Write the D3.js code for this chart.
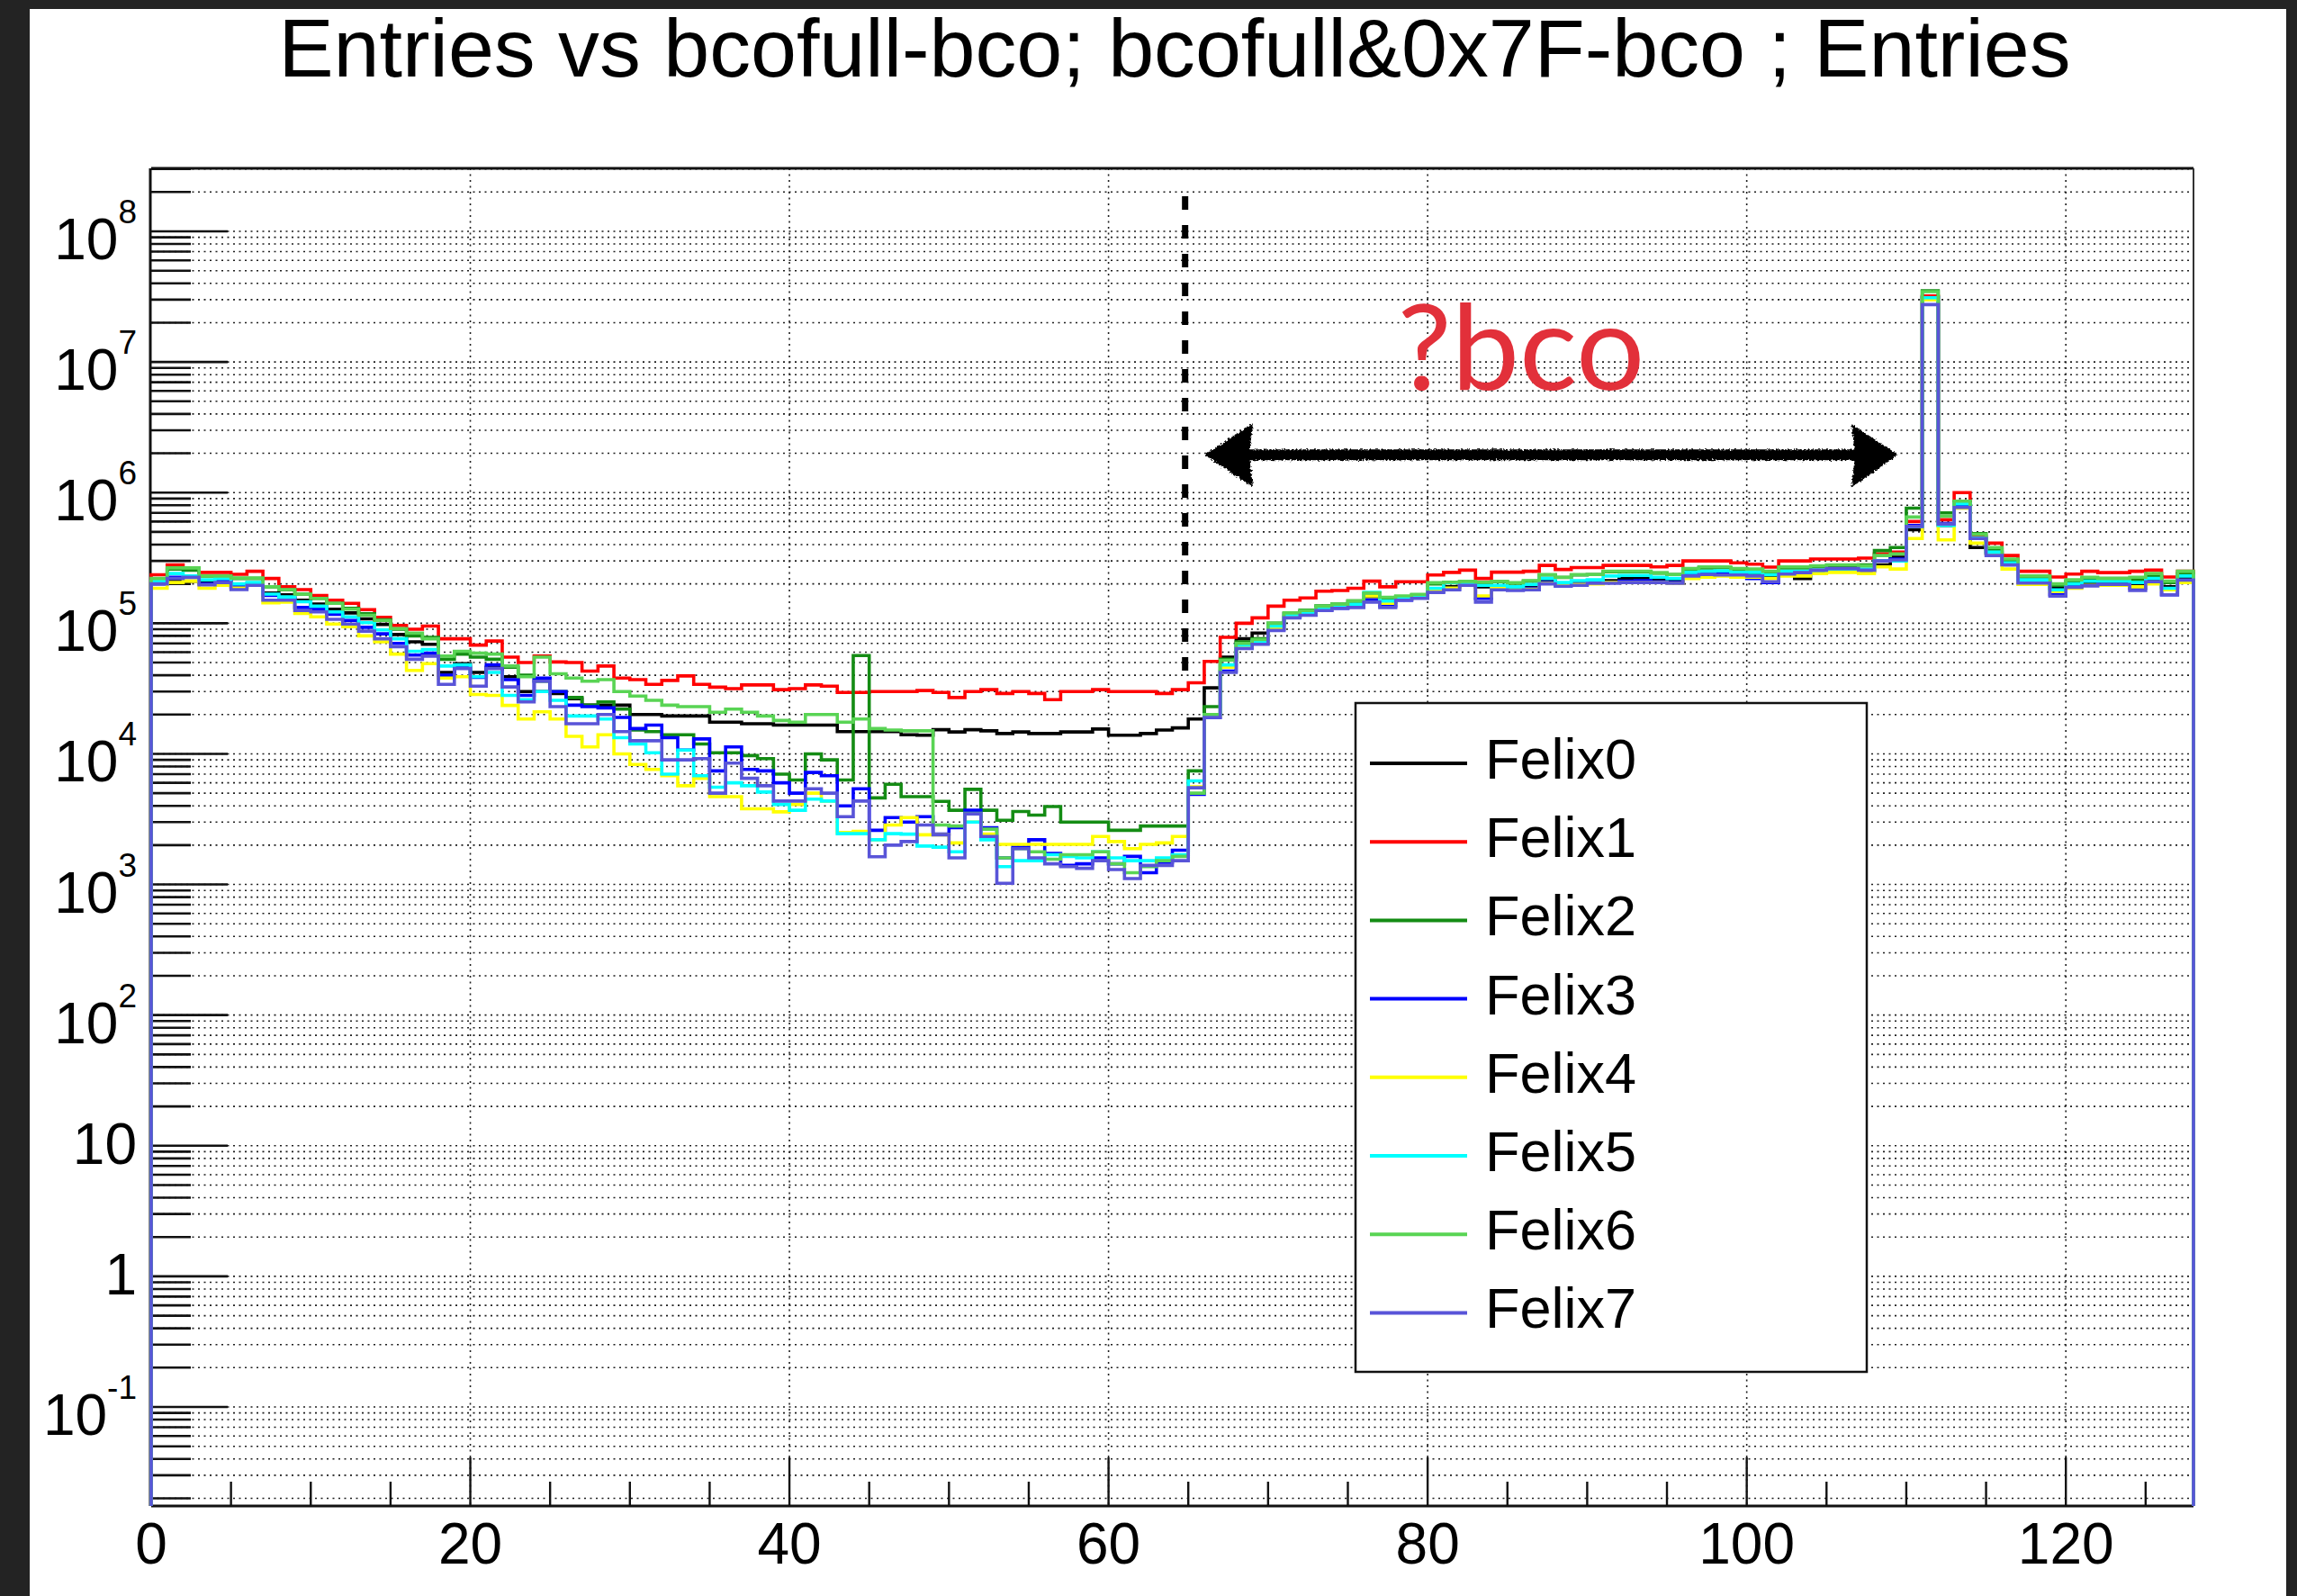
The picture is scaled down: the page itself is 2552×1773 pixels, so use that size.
<!DOCTYPE html>
<html>
<head>
<meta charset="utf-8">
<script src="https://cdn.jsdelivr.net/npm/d3@7"></script>
<style>
  html, body { margin: 0; padding: 0; background: #232323; overflow: hidden; }
  svg { display: block; }
</style>
</head>
<body>
<svg id="chart" width="2552" height="1773"></svg>
<script>
// ---- data: entries per bin of (bcofull & 0x7F) - bco, bins 0..127 ----
const binCount = 128;

const felix0 = [
  2.05e5,2.1e5,2.1e5,2.05e5,2.1e5,1.95e5,2.0e5,1.7e5,1.65e5,1.5e5,
  1.4e5,1.28e5,1.2e5,1.08e5,9.8e4,8.2e4,7.2e4,6.9e4,4.2e4,4.9e4,
  4.2e4,4.6e4,3.9e4,3.0e4,3.0e4,2.9e4,2.64e4,2.36e4,2.36e4,2.36e4,
  2.0e4,2.0e4,1.95e4,1.95e4,1.95e4,1.75e4,1.75e4,1.7e4,1.7e4,1.66e4,
  1.66e4,1.66e4,1.66e4,1.48e4,1.48e4,1.48e4,1.48e4,1.4e4,1.39e4,1.53e4,
  1.47e4,1.53e4,1.5e4,1.43e4,1.47e4,1.43e4,1.43e4,1.47e4,1.47e4,1.55e4,
  1.39e4,1.39e4,1.43e4,1.52e4,1.58e4,1.85e4,3.2e4,5.5e4,7.6e4,8.4e4,
  9.8e4,1.18e5,1.22e5,1.32e5,1.36e5,1.42e5,1.6e5,1.45e5,1.55e5,1.6e5,
  1.8e5,1.9e5,2.0e5,1.9e5,1.92e5,1.86e5,1.95e5,2.1e5,2.0e5,2.05e5,
  2.1e5,2.12e5,2.2e5,2.2e5,2.15e5,2.12e5,2.35e5,2.4e5,2.42e5,2.35e5,
  2.4e5,2.3e5,2.4e5,2.2e5,2.45e5,2.5e5,2.5e5,2.55e5,2.8e5,3.2e5,
  5.2e5,3.15e7,5.6e5,8.0e5,3.8e5,3.5e5,2.9e5,2.1e5,2.1e5,1.85e5,
  2.0e5,2.05e5,2.05e5,2.05e5,2.0e5,2.15e5,1.9e5,2.2e5
];
const felix1 = [
  2.35e5,2.8e5,2.6e5,2.45e5,2.45e5,2.37e5,2.5e5,2.2e5,1.9e5,1.81e5,
  1.63e5,1.5e5,1.42e5,1.27e5,1.11e5,9.6e4,9.0e4,9.5e4,7.6e4,7.6e4,
  6.8e4,7.3e4,5.5e4,5.0e4,5.6e4,5.05e4,5.0e4,4.3e4,4.7e4,3.8e4,
  3.7e4,3.4e4,3.65e4,3.95e4,3.4e4,3.24e4,3.16e4,3.37e4,3.37e4,3.1e4,
  3.16e4,3.37e4,3.3e4,2.95e4,2.95e4,3.0e4,3.0e4,3.0e4,3.05e4,2.95e4,
  2.7e4,3.0e4,3.1e4,2.9e4,3.0e4,2.9e4,2.6e4,3.0e4,3.0e4,3.1e4,
  3.0e4,3.0e4,3.0e4,2.9e4,3.1e4,3.5e4,5.1e4,7.8e4,1.0e5,1.1e5,
  1.35e5,1.5e5,1.56e5,1.76e5,1.78e5,1.85e5,2.1e5,1.9e5,2.08e5,2.08e5,
  2.34e5,2.45e5,2.55e5,2.2e5,2.46e5,2.46e5,2.5e5,2.77e5,2.58e5,2.67e5,
  2.67e5,2.77e5,2.77e5,2.77e5,2.7e5,2.77e5,3.0e5,3.0e5,3.0e5,2.9e5,
  2.83e5,2.69e5,3.0e5,3.0e5,3.1e5,3.1e5,3.1e5,3.15e5,3.4e5,3.5e5,
  6.0e5,3.2e7,6.2e5,1.0e6,4.6e5,4.1e5,3.3e5,2.5e5,2.5e5,2.26e5,
  2.38e5,2.5e5,2.44e5,2.44e5,2.5e5,2.55e5,2.26e5,2.5e5
];
const felix2 = [
  2.1e5,2.6e5,2.55e5,2.3e5,2.3e5,2.2e5,2.2e5,1.9e5,1.8e5,1.67e5,
  1.55e5,1.42e5,1.3e5,1.18e5,1.06e5,9.0e4,8.0e4,7.8e4,5.3e4,5.8e4,
  5.5e4,5.3e4,4.6e4,4.0e4,3.6e4,3.0e4,2.7e4,2.36e4,2.5e4,2.2e4,
  1.52e4,1.48e4,1.4e4,1.4e4,1.19e4,1.02e4,1.02e4,9.7e3,9.2e3,7.0e3,
  6.3e3,1.0e4,9.0e3,6.3e3,5.65e4,4.6e3,5.85e3,4.7e3,4.7e3,4.33e3,
  3.7e3,5.35e3,3.7e3,3.1e3,3.62e3,3.4e3,3.95e3,3.0e3,3.0e3,3.0e3,
  2.6e3,2.6e3,2.8e3,2.8e3,2.8e3,7.4e3,2.3e4,5.3e4,7.2e4,7.6e4,
  1.0e5,1.2e5,1.26e5,1.36e5,1.4e5,1.48e5,1.68e5,1.56e5,1.6e5,1.65e5,
  2.0e5,2.04e5,2.08e5,2.04e5,2.08e5,2.02e5,2.1e5,2.34e5,2.24e5,2.34e5,
  2.36e5,2.48e5,2.48e5,2.48e5,2.42e5,2.36e5,2.6e5,2.65e5,2.66e5,2.6e5,
  2.55e5,2.45e5,2.65e5,2.65e5,2.7e5,2.75e5,2.75e5,2.8e5,3.6e5,3.8e5,
  7.6e5,3.5e7,7.0e5,8.5e5,4.85e5,3.7e5,3.0e5,2.25e5,2.25e5,1.95e5,
  2.1e5,2.2e5,2.2e5,2.2e5,2.15e5,2.3e5,2.05e5,2.4e5
];
const felix3 = [
  2.0e5,2.25e5,2.25e5,2.0e5,2.1e5,1.9e5,2.0e5,1.63e5,1.55e5,1.32e5,
  1.28e5,1.17e5,1.05e5,9.3e4,8.3e4,7.0e4,5.7e4,5.9e4,4.0e4,4.6e4,
  3.85e4,4.8e4,3.7e4,2.8e4,3.8e4,3.0e4,2.36e4,2.3e4,2.25e4,1.9e4,
  1.56e4,1.66e4,1.33e4,1.07e4,1.3e4,7.4e3,1.13e4,7.6e3,7.4e3,6.0e3,
  5.0e3,7.2e3,6.8e3,4.0e3,5.4e3,2.6e3,3.25e3,3.0e3,3.3e3,2.43e3,
  2.72e3,3.7e3,2.72e3,1.6e3,1.93e3,2.2e3,1.73e3,1.4e3,1.44e3,1.6e3,
  1.44e3,1.64e3,1.23e3,1.48e3,1.83e3,4.9e3,1.9e4,4.3e4,6.5e4,7.0e4,
  9.0e4,1.12e5,1.16e5,1.26e5,1.3e5,1.34e5,1.5e5,1.36e5,1.5e5,1.56e5,
  1.74e5,1.82e5,1.96e5,1.55e5,1.84e5,1.8e5,1.85e5,2.05e5,1.95e5,2.0e5,
  2.05e5,2.06e5,2.1e5,2.12e5,2.08e5,2.05e5,2.38e5,2.42e5,2.4e5,2.35e5,
  2.2e5,2.05e5,2.35e5,2.4e5,2.5e5,2.55e5,2.55e5,2.5e5,3.0e5,3.1e5,
  5.6e5,3.1e7,5.8e5,7.8e5,4.45e5,3.4e5,2.8e5,2.05e5,2.05e5,1.65e5,
  1.9e5,1.95e5,1.98e5,1.98e5,1.85e5,2.05e5,1.65e5,2.1e5
];
const felix4 = [
  1.85e5,2.05e5,2.1e5,1.85e5,1.95e5,1.86e5,1.95e5,1.43e5,1.45e5,1.19e5,
  1.12e5,9.85e4,9.4e4,8.0e4,7.2e4,5.8e4,4.35e4,4.9e4,3.8e4,3.9e4,
  2.85e4,2.8e4,2.35e4,1.85e4,2.1e4,1.85e4,1.36e4,1.13e4,1.4e4,1.0e4,
  8.3e3,7.6e3,6.8e3,5.7e3,6.5e3,4.7e3,4.7e3,3.8e3,3.8e3,3.6e3,
  4.1e3,5.0e3,4.35e3,2.5e3,2.55e3,2.2e3,2.85e3,3.25e3,2.4e3,2.4e3,
  2.08e3,3.0e3,2.43e3,2.03e3,2.03e3,2.03e3,2.03e3,2.03e3,2.03e3,2.33e3,
  2.13e3,1.88e3,2.03e3,2.08e3,2.33e3,5.6e3,1.95e4,4.6e4,6.6e4,7.1e4,
  9.2e4,1.14e5,1.18e5,1.28e5,1.33e5,1.38e5,1.62e5,1.42e5,1.52e5,1.58e5,
  1.78e5,1.86e5,1.98e5,1.62e5,1.86e5,1.8e5,1.82e5,2.02e5,1.95e5,1.98e5,
  2.0e5,2.05e5,2.05e5,2.05e5,2.05e5,2.02e5,2.2e5,2.25e5,2.3e5,2.25e5,
  2.25e5,2.2e5,2.3e5,2.3e5,2.4e5,2.45e5,2.45e5,2.4e5,2.7e5,2.6e5,
  4.45e5,3.0e7,4.35e5,7.6e5,4.1e5,3.4e5,2.6e5,1.98e5,1.98e5,1.75e5,
  1.85e5,1.95e5,1.95e5,1.95e5,1.9e5,2.0e5,1.8e5,2.05e5
];
const felix5 = [
  2.1e5,2.4e5,2.3e5,2.15e5,2.2e5,2.0e5,2.05e5,1.67e5,1.59e5,1.46e5,
  1.35e5,1.22e5,1.12e5,1.01e5,8.9e4,7.6e4,6.1e4,6.3e4,4.7e4,4.8e4,
  3.9e4,4.2e4,2.8e4,2.6e4,3.0e4,2.57e4,1.95e4,1.95e4,1.85e4,1.33e4,
  1.19e4,1.02e4,7.0e3,1.07e4,6.8e3,5.55e3,6.0e3,5.7e3,5.1e3,4.1e3,
  3.7e3,4.5e3,4.35e3,2.45e3,2.45e3,2.2e3,2.45e3,2.43e3,1.97e3,1.93e3,
  1.78e3,3.0e3,2.2e3,1.37e3,1.52e3,1.52e3,1.69e3,1.64e3,1.6e3,1.78e3,
  1.6e3,1.52e3,1.52e3,1.6e3,1.69e3,6.2e3,2.0e4,4.8e4,6.8e4,7.3e4,
  9.5e4,1.16e5,1.2e5,1.3e5,1.34e5,1.4e5,1.72e5,1.48e5,1.56e5,1.6e5,
  1.85e5,2.05e5,2.02e5,1.95e5,1.95e5,1.9e5,1.98e5,2.2e5,2.05e5,2.12e5,
  2.15e5,2.3e5,2.32e5,2.32e5,2.25e5,2.2e5,2.45e5,2.5e5,2.52e5,2.45e5,
  2.45e5,2.35e5,2.5e5,2.5e5,2.55e5,2.6e5,2.6e5,2.6e5,3.0e5,3.0e5,
  5.5e5,3.1e7,5.6e5,8.2e5,4.5e5,3.5e5,2.9e5,2.15e5,2.15e5,1.8e5,
  2.0e5,2.1e5,2.1e5,2.1e5,2.05e5,2.2e5,1.85e5,2.3e5
];
const felix6 = [
  2.2e5,2.65e5,2.65e5,2.3e5,2.3e5,2.22e5,2.22e5,1.9e5,1.81e5,1.67e5,
  1.55e5,1.42e5,1.28e5,1.15e5,1.05e5,9.1e4,8.4e4,7.6e4,5.6e4,6.1e4,
  5.9e4,5.8e4,4.7e4,3.9e4,5.5e4,4.1e4,3.8e4,3.6e4,3.7e4,3.0e4,
  2.77e4,2.57e4,2.36e4,2.3e4,2.3e4,2.08e4,2.2e4,2.08e4,1.95e4,1.8e4,
  1.75e4,2.0e4,2.0e4,1.75e4,1.85e4,1.56e4,1.52e4,1.5e4,1.5e4,2.85e3,
  2.8e3,3.5e3,2.65e3,1.6e3,1.88e3,1.78e3,1.56e3,1.69e3,1.69e3,1.78e3,
  1.44e3,1.23e3,1.37e3,1.52e3,1.64e3,5.0e3,2.0e4,5.2e4,7.0e4,7.5e4,
  1.0e5,1.2e5,1.25e5,1.35e5,1.4e5,1.48e5,1.7e5,1.58e5,1.62e5,1.66e5,
  2.04e5,2.06e5,2.09e5,2.06e5,2.09e5,2.04e5,2.12e5,2.36e5,2.25e5,2.36e5,
  2.36e5,2.5e5,2.5e5,2.5e5,2.43e5,2.36e5,2.62e5,2.7e5,2.7e5,2.62e5,
  2.6e5,2.5e5,2.7e5,2.7e5,2.75e5,2.8e5,2.8e5,2.75e5,3.3e5,3.4e5,
  6.5e5,3.45e7,6.6e5,8.6e5,4.8e5,3.8e5,3.1e5,2.3e5,2.3e5,2.0e5,
  2.15e5,2.25e5,2.2e5,2.2e5,2.25e5,2.4e5,2.1e5,2.5e5
];
const felix7 = [
  2.0e5,2.2e5,2.25e5,1.97e5,2.05e5,1.81e5,1.95e5,1.5e5,1.5e5,1.25e5,
  1.22e5,1.07e5,9.85e4,8.7e4,7.6e4,6.6e4,5.3e4,5.6e4,3.4e4,4.5e4,
  3.3e4,4.5e4,3.25e4,2.5e4,3.6e4,2.3e4,1.7e4,1.7e4,2.0e4,1.48e4,
  1.26e4,1.26e4,9.0e3,9.0e3,9.2e3,5.0e3,8.5e3,6.5e3,5.7e3,4.35e3,
  4.35e3,5.4e3,5.0e3,3.3e3,4.35e3,1.63e3,2.0e3,2.13e3,2.85e3,2.4e3,
  1.6e3,3.47e3,2.33e3,1.02e3,1.88e3,1.6e3,1.44e3,1.37e3,1.33e3,1.52e3,
  1.3e3,1.11e3,1.4e3,1.4e3,1.52e3,5.5e3,1.9e4,4.2e4,6.4e4,6.9e4,
  8.8e4,1.1e5,1.15e5,1.25e5,1.3e5,1.32e5,1.45e5,1.32e5,1.5e5,1.55e5,
  1.72e5,1.8e5,1.95e5,1.45e5,1.8e5,1.78e5,1.8e5,2.0e5,1.92e5,1.95e5,
  2.02e5,2.02e5,2.05e5,2.05e5,2.05e5,2.02e5,2.3e5,2.36e5,2.34e5,2.34e5,
  2.3e5,2.08e5,2.38e5,2.44e5,2.55e5,2.62e5,2.62e5,2.55e5,3.0e5,3.05e5,
  5.5e5,2.75e7,5.75e5,7.7e5,4.45e5,3.3e5,2.8e5,2.03e5,2.03e5,1.61e5,
  1.88e5,1.93e5,1.98e5,1.98e5,1.78e5,2.08e5,1.65e5,2.14e5
];

const seriesNames  = ["Felix0","Felix1","Felix2","Felix3","Felix4","Felix5","Felix6","Felix7"];
const seriesValues = [felix0, felix1, felix2, felix3, felix4, felix5, felix6, felix7];
const seriesColors = ["#000000","#ff0000","#148c14","#0000ff","#ffff00","#00ffff","#59d454","#5954d8"];

const xTickValues  = [0, 20, 40, 60, 80, 100, 120];
const yDecades     = [-1, 0, 1, 2, 3, 4, 5, 6, 7, 8];
const titleText    = "Entries vs bcofull-bco; bcofull&0x7F-bco ; Entries";

// annotation: dashed marker, the "?bco" span and its double arrow
const markerX = 64.8, markerTop = 1.86e8, markerBottom = 4.3e4;
const spanFrom = 66.0, spanTo = 109.5, spanLevel = 1.95e6;
const spanLabel = "?bco", spanLabelX = 78.1, spanLabelLevel = 6.1e6;

// ---- layout ----
const svg = d3.select("#chart");
const frame = { left: 168, right: 2437, top: 187, bottom: 1673 };
const FONT = "'Liberation Sans', Arial, Helvetica, sans-serif";

const x = d3.scaleLinear().domain([0, binCount]).range([frame.left, frame.right]);
const y = d3.scaleLog().domain([Math.pow(10, -1.758), Math.pow(10, 8.4824)]).range([frame.bottom, frame.top]);
const [yMin, yMax] = y.domain();

// canvas
svg.append("rect").attr("x", 33).attr("y", 10).attr("width", 2507).attr("height", 1763).attr("fill", "#ffffff");

// title
svg.append("text")
  .attr("x", 1305).attr("y", 85)
  .attr("text-anchor", "middle")
  .attr("font-family", FONT).attr("font-size", 91)
  .attr("textLength", 1991).attr("lengthAdjust", "spacingAndGlyphs")
  .attr("fill", "#000")
  .text(titleText);

// ---- grid (dotted) ----
const grid = svg.append("g").attr("stroke", "#1e1e1e").attr("stroke-width", 1.6).attr("stroke-dasharray", "2,4.5");
const yGridValues = [];
for (let n = -2; n <= 8; n++) for (let k = 1; k <= 9; k++) {
  const v = k * Math.pow(10, n);
  if (v > yMin && v < yMax) yGridValues.push(v);
}
grid.selectAll("line.gy").data(yGridValues).join("line")
  .attr("class", "gy")
  .attr("x1", frame.left).attr("x2", frame.right)
  .attr("y1", d => y(d)).attr("y2", d => y(d));
grid.selectAll("line.gx").data(xTickValues.filter(v => v > 0)).join("line")
  .attr("class", "gx")
  .attr("x1", d => x(d)).attr("x2", d => x(d))
  .attr("y1", frame.top).attr("y2", frame.bottom);

// ---- axes ----
const axes = svg.append("g").attr("stroke", "#111");
// y ticks: long at decades, short at 2..9
axes.selectAll("line.ty").data(yGridValues).join("line")
  .attr("class", "ty")
  .attr("x1", frame.left)
  .attr("x2", d => {
    const m = d / Math.pow(10, Math.floor(Math.log10(d) + 1e-9));
    return frame.left + (Math.abs(m - 1) < 1e-6 ? 85 : 44);
  })
  .attr("y1", d => y(d)).attr("y2", d => y(d))
  .attr("stroke-width", 2.6);
// x ticks every 5, longer at labelled values
const xMinor = d3.range(5, binCount, 5);
axes.selectAll("line.tx").data(xMinor).join("line")
  .attr("class", "tx")
  .attr("x1", d => x(d)).attr("x2", d => x(d))
  .attr("y1", frame.bottom)
  .attr("y2", d => frame.bottom - (d % 20 === 0 ? 54 : 27))
  .attr("stroke-width", 2.4);

// frame
svg.append("line").attr("x1", frame.left).attr("x2", frame.right).attr("y1", frame.top).attr("y2", frame.top)
  .attr("stroke", "#111").attr("stroke-width", 3);
svg.append("line").attr("x1", frame.right).attr("x2", frame.right).attr("y1", frame.top).attr("y2", frame.bottom)
  .attr("stroke", "#333").attr("stroke-width", 2);
svg.append("line").attr("x1", frame.left).attr("x2", frame.right).attr("y1", frame.bottom).attr("y2", frame.bottom)
  .attr("stroke", "#111").attr("stroke-width", 3);
svg.append("line").attr("x1", frame.left - 1).attr("x2", frame.left - 1).attr("y1", frame.top).attr("y2", frame.bottom)
  .attr("stroke", "#111").attr("stroke-width", 3);

// y labels
const yLabels = svg.append("g").attr("font-family", FONT).attr("fill", "#000");
yDecades.forEach(n => {
  const py = y(Math.pow(10, n));
  const t = yLabels.append("text").attr("x", 152).attr("text-anchor", "end").attr("font-size", 64);
  if (n === 0 || n === 1) {
    t.attr("y", py + 20).text(n === 0 ? "1" : "10");
  } else {
    t.attr("y", py + 31);
    t.append("tspan").text("10");
    t.append("tspan").attr("dy", -40).attr("font-size", 37).text(String(n));
  }
});

// x labels
svg.append("g").attr("font-family", FONT).attr("font-size", 64).attr("fill", "#000")
  .selectAll("text").data(xTickValues).join("text")
  .attr("x", d => x(d)).attr("y", 1737).attr("text-anchor", "middle")
  .text(d => d);

// ---- histograms (step outlines, closed to the axis floor) ----
const stepLine = d3.line()
  .x(d => x(d[0]))
  .y(d => y(d[1]))
  .curve(d3.curveStepAfter);

const hists = svg.append("g").attr("fill", "none").attr("stroke-width", 3.6).attr("stroke-linejoin", "miter");
seriesValues.forEach((vals, s) => {
  const pts = [[0, yMin]];
  vals.forEach((v, i) => pts.push([i, v]));
  pts.push([binCount, vals[vals.length - 1]]);
  pts.push([binCount, yMin]);
  hists.append("path").attr("d", stepLine(pts)).attr("stroke", seriesColors[s]);
});

// ---- legend ----
const legend = svg.append("g");
legend.append("rect")
  .attr("x", 1506).attr("y", 781).attr("width", 568).attr("height", 743)
  .attr("fill", "#fff").attr("stroke", "#111").attr("stroke-width", 2.5);
seriesNames.forEach((name, i) => {
  const ly = 848 + i * 87.2;
  legend.append("line").attr("x1", 1522).attr("x2", 1630).attr("y1", ly).attr("y2", ly)
    .attr("stroke", seriesColors[i]).attr("stroke-width", 4);
  legend.append("text").attr("x", 1650).attr("y", ly + 17)
    .attr("font-family", FONT).attr("font-size", 63).attr("fill", "#000")
    .text(name);
});

// ---- annotation ----
const defs = svg.append("defs");
const rough = defs.append("filter").attr("id", "rough").attr("x", "-5%").attr("y", "-50%").attr("width", "110%").attr("height", "200%");
rough.append("feTurbulence").attr("type", "fractalNoise").attr("baseFrequency", 0.45).attr("numOctaves", 2).attr("seed", 7).attr("result", "noise");
rough.append("feDisplacementMap").attr("in", "SourceGraphic").attr("in2", "noise").attr("scale", 5)
  .attr("xChannelSelector", "R").attr("yChannelSelector", "G");

svg.append("line")
  .attr("x1", x(markerX)).attr("x2", x(markerX))
  .attr("y1", y(markerTop)).attr("y2", y(markerBottom))
  .attr("stroke", "#000").attr("stroke-width", 7).attr("stroke-dasharray", "15,17");

const ax0 = x(spanFrom), ax1 = x(spanTo), ay = y(spanLevel);
const arrow = svg.append("g").attr("filter", "url(#rough)").attr("fill", "#000");
arrow.append("line").attr("x1", ax0 + 30).attr("x2", ax1 - 30).attr("y1", ay).attr("y2", ay)
  .attr("stroke", "#000").attr("stroke-width", 12);
arrow.append("path").attr("d", `M${ax0},${ay} L${ax0 + 54},${ay - 35} L${ax0 + 50},${ay} L${ax0 + 54},${ay + 36} Z`);
arrow.append("path").attr("d", `M${ax1},${ay} L${ax1 - 52},${ay - 34} L${ax1 - 48},${ay} L${ax1 - 52},${ay + 36} Z`);

svg.append("text")
  .attr("x", x(spanLabelX)).attr("y", y(spanLabelLevel))
  .attr("font-family", "Lato, 'Noto Sans', sans-serif").attr("font-size", 132)
  .attr("textLength", 275).attr("lengthAdjust", "spacingAndGlyphs")
  .attr("fill", "#e2303a")
  .text(spanLabel);
</script>
</body>
</html>
